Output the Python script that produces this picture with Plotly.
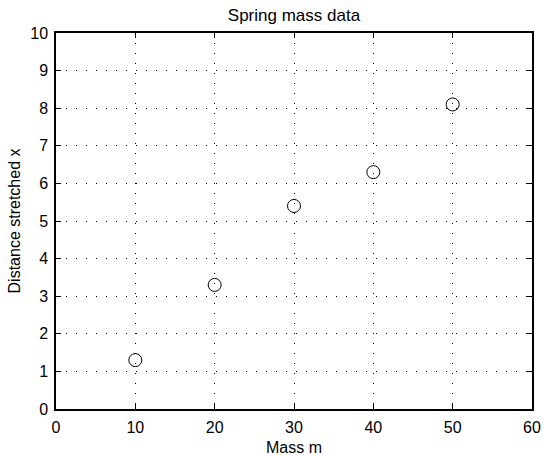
import plotly.graph_objects as go

mass = [10, 20, 30, 40, 50]
stretch = [1.3, 3.3, 5.4, 6.3, 8.1]
x_ticks = [0, 10, 20, 30, 40, 50, 60]
y_ticks = [0, 1, 2, 3, 4, 5, 6, 7, 8, 9, 10]

fig = go.Figure(go.Scatter(
    x=mass,
    y=stretch,
    mode="markers",
    marker=dict(symbol="circle-open", size=13, color="black", line=dict(width=1)),
    showlegend=False,
))

axis_style = dict(
    showline=True,
    linecolor="black",
    linewidth=1.5,
    mirror="ticks",
    ticks="inside",
    ticklen=5,
    tickcolor="black",
    showgrid=True,
    gridcolor="black",
    gridwidth=1,
    griddash="1px,9px",
    zeroline=False,
    automargin=False,
    tickfont=dict(size=16, color="black"),
)

fig.update_layout(
    width=544,
    height=456,
    paper_bgcolor="white",
    plot_bgcolor="white",
    font=dict(family="Liberation Sans, Arial, sans-serif", color="black", size=16),
    title=dict(text="Spring mass data", x=0.5404, xanchor="center", y=0.966, yanchor="middle",
               font=dict(size=17)),
    xaxis=dict(axis_style, range=[0, 60], tickvals=x_ticks, ticklabelstandoff=3,
               title=dict(text="Mass m", font=dict(size=16), standoff=8)),
    yaxis=dict(axis_style, range=[0, 10], tickvals=y_ticks, ticklabelstandoff=3,
               title=dict(text="Distance stretched x", font=dict(size=16), standoff=6)),
    margin=dict(l=56, r=12, t=33, b=47),
)

# drop the browser's default 8px body margin so the figure fills the window exactly
fig.write_html(
    "out.html",
    config={"displayModeBar": False},
    post_script="document.body.style.margin = '0';",
)
